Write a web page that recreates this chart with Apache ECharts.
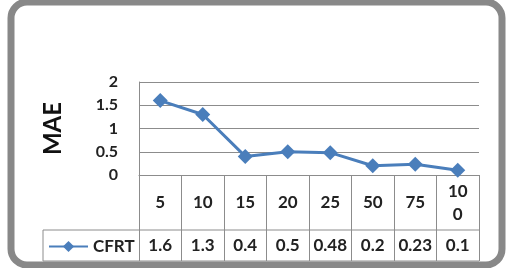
<!DOCTYPE html>
<html><head><meta charset="utf-8">
<script src="https://cdn.jsdelivr.net/npm/echarts@6/dist/echarts.min.js"></script>
<style>html,body{margin:0;padding:0;background:#fff}#c{width:524px;height:268px}</style>
</head><body><div id="c"></div>
<script>
const categories = ['5','10','15','20','25','50','75','100'];
const seriesName = 'CFRT';
const cfrtValues = [1.6, 1.3, 0.4, 0.5, 0.48, 0.2, 0.23, 0.1];
const yTicks = [0, 0.5, 1, 1.5, 2];

const chart = echarts.init(document.getElementById('c'));
const FONT = 'Lato';
const gridLeft = 139, gridRight = 45, gridTop = 82, gridBottom = 93;
const W = 524, H = 268;
const axisY = H - gridBottom;         // 175
const tableBottom = 261, rowSplit = 230, legendLeft = 43;
const lineCol = '#4a7ebb', gridCol = '#8c8c8c';

chart.setOption({
  animation: false,
  grid: { left: gridLeft, right: gridRight, top: gridTop, bottom: gridBottom, containLabel: false },
  legend: {
    data: [seriesName], left: 43, top: 233, itemWidth: 39, itemHeight: 14, itemGap: 2,
    textStyle: { fontFamily: FONT, fontWeight: 'bold', fontSize: 17, color: '#222' }
  },
  xAxis: [{
    type: 'category', data: categories, boundaryGap: true, position: 'bottom',
    axisLine: { show: true, lineStyle: { color: gridCol, width: 1 } },
    axisTick: { show: true, interval: 0, length: tableBottom - axisY, lineStyle: { color: gridCol } },
    axisLabel: { interval: 0, margin: 28, verticalAlign: 'middle', lineHeight: 23,
      fontFamily: FONT, fontWeight: 'bold', fontSize: 17, color: '#222',
      formatter: v => v.length > 2 ? v.slice(0, 2) + '\n' + v.slice(2) : v }
  }, {
    type: 'category', data: cfrtValues.map(String), boundaryGap: true, position: 'bottom',
    axisLine: { show: false }, axisTick: { show: false },
    axisLabel: { interval: 0, margin: 71, verticalAlign: 'middle',
      fontFamily: FONT, fontWeight: 'bold', fontSize: 17, color: '#222' }
  }],
  yAxis: {
    type: 'value', min: yTicks[0], max: yTicks[yTicks.length - 1], interval: 0.5,
    name: 'MAE', nameLocation: 'middle', nameRotate: 90, nameGap: 74,
    nameTextStyle: { fontFamily: FONT, fontWeight: 'bold', fontSize: 24, color: '#111' },
    axisLine: { show: true, lineStyle: { color: gridCol } },
    axisTick: { show: false },
    splitLine: { show: true, lineStyle: { color: gridCol, width: 1 } },
    axisLabel: { margin: 21, fontFamily: FONT, fontWeight: 'bold', fontSize: 16, color: '#222' }
  },
  series: [{
    name: seriesName, type: 'line', data: cfrtValues,
    symbol: 'diamond', symbolSize: 15,
    lineStyle: { color: lineCol, width: 3 },
    itemStyle: { color: lineCol }
  }],
  graphic: [
    { type: 'rect', shape: { x: 11, y: 2, width: 491, height: 263, r: 16 },
      style: { fill: 'none', stroke: '#888', lineWidth: 7 }, z: 100 },
    { type: 'line', shape: { x1: legendLeft, y1: rowSplit, x2: W - gridRight, y2: rowSplit },
      style: { stroke: gridCol, lineWidth: 1 } },
    { type: 'line', shape: { x1: legendLeft, y1: tableBottom, x2: W - gridRight, y2: tableBottom },
      style: { stroke: gridCol, lineWidth: 1 } },
    { type: 'line', shape: { x1: legendLeft, y1: rowSplit, x2: legendLeft, y2: tableBottom },
      style: { stroke: gridCol, lineWidth: 1 } }
  ]
});
</script></body></html>
